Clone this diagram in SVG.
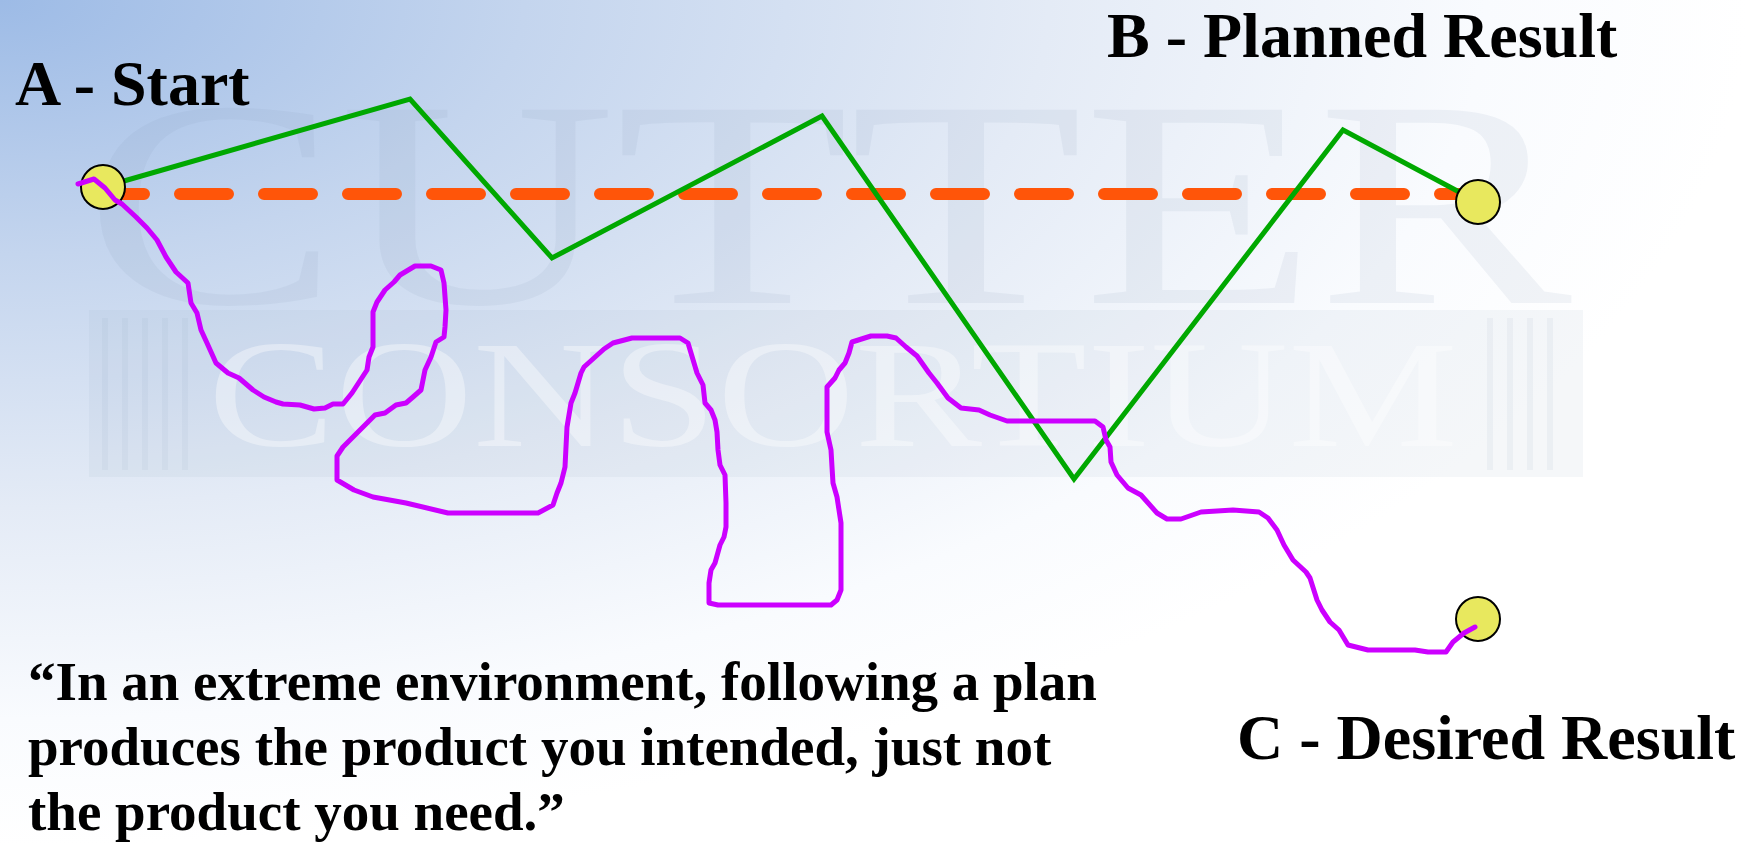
<svg xmlns="http://www.w3.org/2000/svg" width="1748" height="846" viewBox="0 0 1748 846">
  <defs>
    <radialGradient id="bg" cx="0" cy="0" r="1" gradientUnits="objectBoundingBox">
      <stop offset="0" stop-color="#9dbbe6"/>
      <stop offset="0.3" stop-color="#c4d5ee"/>
      <stop offset="0.6" stop-color="#e4ebf6"/>
      <stop offset="0.85" stop-color="#f9fbfe"/>
      <stop offset="1" stop-color="#ffffff"/>
    </radialGradient>
    <style>
      .lbl { font-family: "Liberation Serif", "Times New Roman", serif; font-weight: bold; font-size: 64px; fill: #000; }
      .quote { font-family: "Liberation Serif", "Times New Roman", serif; font-weight: bold; font-size: 55px; fill: #000; }
      .wm { font-family: "Liberation Serif", "Times New Roman", serif; }
      .dot { fill: #e8e85e; stroke: #000; stroke-width: 2; }
      .plan { fill: none; stroke: #ff5509; stroke-width: 12; stroke-linecap: round; stroke-dasharray: 48 36; }
      .zig { fill: none; stroke: #00a800; stroke-width: 5; stroke-linejoin: miter; }
      .real { fill: none; stroke: #cc00ff; stroke-width: 5; stroke-linejoin: round; stroke-linecap: round; }
      .pil { stroke: #7f93b3; stroke-opacity: 0.08; stroke-width: 6; }
    </style>
  </defs>

  <rect x="0" y="0" width="1748" height="846" fill="url(#bg)"/>

  <g id="watermark">
    <text class="wm" x="84" y="303" font-size="295" fill="#7d91b2" fill-opacity="0.1" textLength="1488" lengthAdjust="spacingAndGlyphs">CUTTER</text>
    <rect x="89" y="310" width="1494" height="167" fill="#8ea2c0" fill-opacity="0.09"/>
    <g>
      <line class="pil" x1="105" y1="318" x2="105" y2="470"/>
      <line class="pil" x1="125" y1="318" x2="125" y2="470"/>
      <line class="pil" x1="145" y1="318" x2="145" y2="470"/>
      <line class="pil" x1="165" y1="318" x2="165" y2="470"/>
      <line class="pil" x1="185" y1="318" x2="185" y2="470"/>
      <line class="pil" x1="1490" y1="318" x2="1490" y2="470"/>
      <line class="pil" x1="1510" y1="318" x2="1510" y2="470"/>
      <line class="pil" x1="1530" y1="318" x2="1530" y2="470"/>
      <line class="pil" x1="1550" y1="318" x2="1550" y2="470"/>
    </g>
    <text class="wm" x="208" y="446" font-size="152" fill="#ffffff" fill-opacity="0.38" textLength="1250" lengthAdjust="spacingAndGlyphs">CONSORTIUM</text>
  </g>

  <g id="connectors">
    <path id="planned-line" class="plan" d="M96,194 L1478,194"/>
    <polyline id="planned-path" class="zig" points="103,187 410,99 552,258 822,116 1074,479 1343,130 1478,202"/>
  </g>

  <g id="node-a">
    <circle class="dot" cx="103" cy="187" r="22"/>
    <text class="lbl" x="15" y="105">A - Start</text>
  </g>
  <g id="node-b">
    <circle class="dot" cx="1478" cy="202" r="22"/>
    <text class="lbl" x="1107" y="57">B - Planned Result</text>
  </g>
  <g id="node-c">
    <circle class="dot" cx="1478" cy="619" r="22"/>
    <text class="lbl" x="1237" y="759">C - Desired Result</text>
  </g>

  <g id="connectors-actual">
    <polyline id="actual-path" class="real" points="78,184 94,179 105,188 115,200 122,204 136,217 147,228 157,240 166,257 176,272 188,283 191,303 197,313 201,330 207,343 216,363 228,373 239,378 253,390 264,397 276,402 283,404 300,405 314,409 325,408 333,404 343,404 352,393 367,370 369,357 373,347 373,312 377,302 385,290 394,282 400,275 415,266 431,266 441,270 444,283 446,310 445,327 444,337 436,342 431,357 425,370 421,390 413,397 406,403 396,405 385,413 375,415 367,423 352,438 343,447 337,456 337,480 354,490 373,497 406,503 448,513 538,513 553,505 557,493 561,483 565,467 567,427 571,403 575,393 581,373 584,367 604,349 613,343 632,338 680,338 688,343 697,373 703,385 705,403 711,410 715,420 717,432 718,450 720,465 725,475 726,503 726,527 724,537 720,545 715,563 711,570 709,583 709,603 718,605 831,605 837,600 841,590 841,523 837,497 833,483 832,467 831,450 827,432 827,387 835,378 839,370 845,363 849,353 852,342 871,336 887,336 896,338 906,347 917,356 929,373 937,383 948,398 961,408 979,410 990,415 1007,421 1095,421 1103,427 1106,440 1110,447 1111,462 1117,475 1128,488 1141,495 1157,513 1167,519 1181,519 1201,512 1233,510 1259,512 1268,518 1277,530 1284,545 1293,560 1306,572 1310,578 1317,600 1322,610 1330,622 1339,630 1348,645 1368,650 1415,650 1428,652 1446,652 1453,642 1464,633 1475,627"/>
  </g>

  <g id="quote">
    <text class="quote" x="28" y="700">“In an extreme environment, following a plan</text>
    <text class="quote" x="28" y="765">produces the product you intended, just not</text>
    <text class="quote" x="28" y="830">the product you need.”</text>
  </g>
</svg>
